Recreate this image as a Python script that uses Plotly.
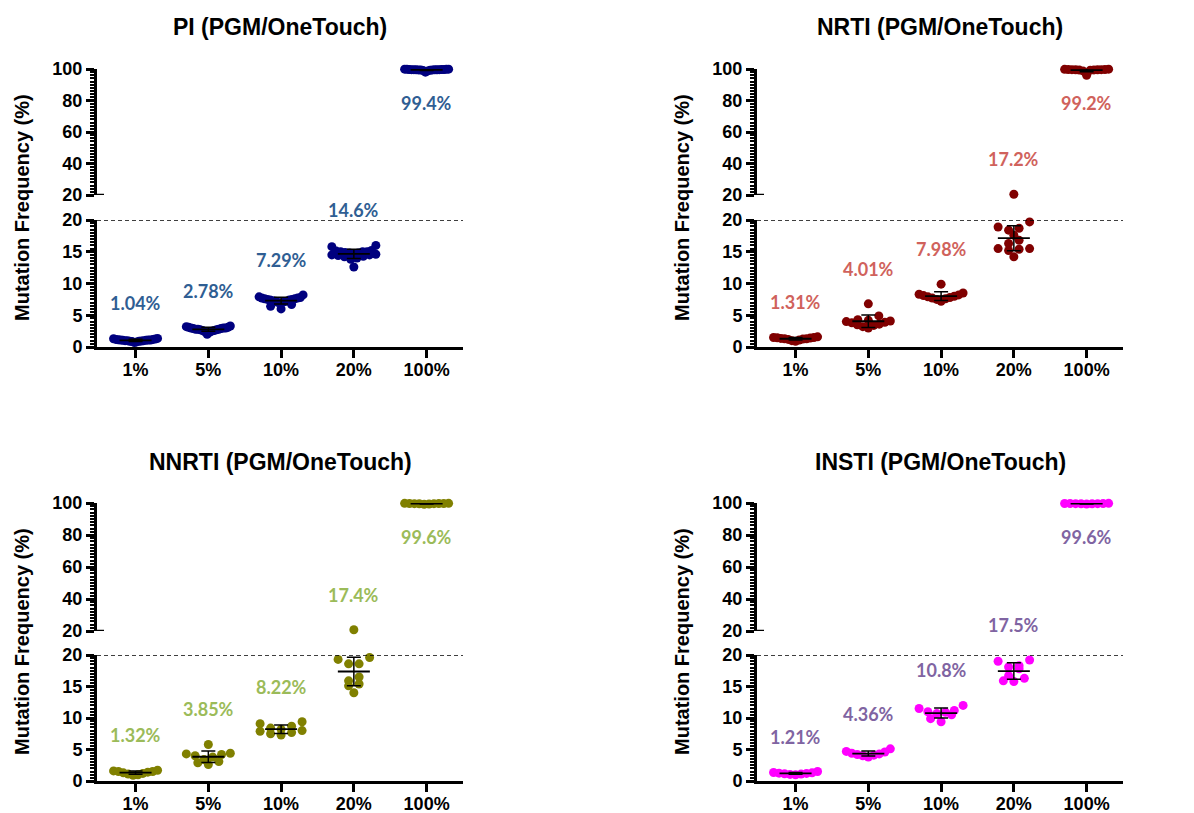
import numpy as np
import plotly.graph_objects as go

# ---------------- data ----------------
categories = ["1%", "5%", "10%", "20%", "100%"]
titles = ["PI (PGM/OneTouch)", "NRTI (PGM/OneTouch)", "NNRTI (PGM/OneTouch)", "INSTI (PGM/OneTouch)"]

pi_values = [
    [0.7, 0.8, 0.85, 0.9, 0.9, 0.95, 1.0, 1.0, 1.0, 1.05, 1.05, 1.1, 1.1, 1.1, 1.15, 1.2, 1.2, 1.25, 1.3, 1.35],
    [2.0, 2.3, 2.4, 2.5, 2.6, 2.6, 2.7, 2.7, 2.8, 2.8, 2.8, 2.9, 2.9, 3.0, 3.0, 3.0, 3.1, 3.1, 3.2, 3.3],
    [6.0, 6.4, 6.7, 6.9, 7.0, 7.1, 7.2, 7.2, 7.3, 7.4, 7.4, 7.5, 7.5, 7.6, 7.6, 7.7, 7.7, 7.8, 7.9, 8.2],
    [12.6, 13.8, 14.0, 14.2, 14.3, 14.4, 14.5, 14.5, 14.6, 14.7, 14.8, 14.9, 15.0, 15.0, 15.1, 14.8, 15.0, 15.2, 15.8, 16.0],
    [98.0, 98.8, 99.0, 99.2, 99.3, 99.4, 99.4, 99.5, 99.5, 99.5, 99.6, 99.6, 99.6, 99.7, 99.7, 99.7, 99.8, 99.8, 99.9, 99.9],
]
nrti_values = [
    [0.9, 1.0, 1.1, 1.2, 1.25, 1.3, 1.3, 1.35, 1.4, 1.45, 1.5, 1.5, 1.6],
    [6.8, 4.9, 3.0, 3.2, 3.4, 3.5, 3.6, 3.8, 3.9, 4.0, 4.1, 4.2, 4.3],
    [9.9, 7.2, 7.4, 7.5, 7.6, 7.7, 7.8, 7.9, 8.0, 8.1, 8.2, 8.3, 8.5],
    [20.5, 19.7, 18.7, 18.9, 17.6, 18.4, 16.8, 15.5, 15.4, 15.2, 15.5, 16.3, 14.2],
    [96.0, 98.8, 99.2, 99.3, 99.4, 99.5, 99.5, 99.6, 99.6, 99.7, 99.7, 99.8, 99.9],
]
nnrti_values = [
    [0.9, 1.0, 1.1, 1.2, 1.3, 1.4, 1.5, 1.5, 1.6, 1.7],
    [5.8, 2.6, 2.9, 3.1, 3.4, 3.8, 4.0, 4.2, 4.3, 4.4],
    [7.3, 7.5, 7.7, 7.9, 8.0, 8.2, 8.4, 8.7, 9.1, 9.4],
    [20.8, 19.3, 19.6, 18.6, 18.6, 16.5, 15.9, 15.4, 15.1, 14.0],
    [99.2, 99.4, 99.5, 99.6, 99.6, 99.7, 99.7, 99.8, 99.8, 99.7],
]
insti_values = [
    [1.0, 1.05, 1.1, 1.15, 1.2, 1.25, 1.3, 1.35, 1.5],
    [3.8, 4.0, 4.1, 4.2, 4.3, 4.4, 4.6, 4.7, 5.1],
    [9.4, 9.9, 10.5, 10.7, 10.9, 11.0, 11.2, 11.5, 12.0],
    [19.2, 19.0, 17.8, 18.3, 18.1, 16.7, 16.3, 15.9, 15.8],
    [99.3, 99.5, 99.5, 99.6, 99.6, 99.7, 99.7, 99.7, 99.8],
]

pi_labels = ["1.04%", "2.78%", "7.29%", "14.6%", "99.4%"]
nrti_labels = ["1.31%", "4.01%", "7.98%", "17.2%", "99.2%"]
nnrti_labels = ["1.32%", "3.85%", "8.22%", "17.4%", "99.6%"]
insti_labels = ["1.21%", "4.36%", "10.8%", "17.5%", "99.6%"]

# ---------------- styling ----------------
dot_colors = ["#00007F", "#800000", "#808000", "#FF00FF"]
label_colors = ["#2F5E93", "#D0625C", "#9BBB59", "#8064A2"]
FONT = "Liberation Sans, Arial, sans-serif"
LABEL_FONT = "Lato, Open Sans, sans-serif"

W, H = 1194, 813
XRANGE = (-0.53, 4.5)
PLOT_W = 366
PX_PER_CAT = PLOT_W / (XRANGE[1] - XRANGE[0])
LOW_RANGE = (0, 20)
UP_RANGE = (20, 100)
# left, upper-top, upper-bottom, lower-top, lower-bottom (px)
frames = [
    (97, 69, 195, 220, 347),
    (757, 69, 195, 220, 347),
    (97, 503, 631, 655, 781),
    (757, 503, 631, 655, 781),
]
title_y = [27, 27, 462, 462]

all_values = [pi_values, nrti_values, nnrti_values, insti_values]
all_labels = [pi_labels, nrti_labels, nnrti_labels, insti_labels]


def swarm(py, d=8.5, maxw=44.0):
    py = np.asarray(py, float)
    off = np.zeros(len(py))
    if len(py) == 0:
        return off
    order = np.argsort(-py, kind="stable")
    base = py.min()
    bins = {}
    for idx in order:
        b = int((py[idx] - base) // d)
        bins.setdefault(b, []).append(idx)
    for members in bins.values():
        n = len(members)
        if n == 1:
            continue
        s = min(d + 2.0, maxw / (n - 1))
        slots = (np.arange(n) - (n - 1) / 2) * s
        slot_order = np.argsort(np.abs(slots), kind="stable")
        for k, idx in enumerate(members):
            off[idx] = slots[slot_order[k]]
    return off


def axkey(prefix, n):
    return prefix + "axis" + ("" if n == 1 else str(n))


def axref(prefix, n):
    return prefix + ("" if n == 1 else str(n))


fig = go.Figure()
layout = {}
annotations = []
shapes = []

tickfont = dict(size=18, family=FONT, color="black", weight="bold")

for i in range(4):
    left, up_top, up_bot, lo_top, lo_bot = frames[i]
    xn, ylo, yup = i + 1, 2 * i + 1, 2 * i + 2
    xname, ylo_name, yup_name = axref("x", xn), axref("y", ylo), axref("y", yup)

    def to_px(v, seg, lo_top=lo_top, lo_bot=lo_bot, up_top=up_top, up_bot=up_bot):
        v = np.asarray(v, float)
        if seg == "lo":
            return lo_bot - (v - LOW_RANGE[0]) / (LOW_RANGE[1] - LOW_RANGE[0]) * (lo_bot - lo_top)
        return up_bot - (v - UP_RANGE[0]) / (UP_RANGE[1] - UP_RANGE[0]) * (up_bot - up_top)

    layout[axkey("x", xn)] = dict(
        domain=[left / W, (left + PLOT_W) / W], range=list(XRANGE), anchor=ylo_name,
        tickmode="array", tickvals=list(range(len(categories))), ticktext=categories,
        ticks="outside", ticklen=8, tickwidth=2.5, tickcolor="black", ticklabelstandoff=-4,
        showline=True, linewidth=3, linecolor="black", showgrid=False, zeroline=False,
        tickfont=tickfont, fixedrange=True, automargin=False,
    )
    common_y = dict(
        anchor=xname, ticks="outside", ticklen=8, tickwidth=2.5, tickcolor="black",
        showline=True, linewidth=3, linecolor="black", showgrid=False, zeroline=False,
        tickfont=tickfont, fixedrange=True, automargin=False,
    )
    layout[axkey("y", ylo)] = dict(
        domain=[1 - lo_bot / H, 1 - lo_top / H], range=list(LOW_RANGE),
        tickmode="linear", tick0=0, dtick=5,
        minor=dict(dtick=0.5, ticklen=4, tickwidth=1.5, tickcolor="black", ticks="outside"),
        **common_y,
    )
    layout[axkey("y", yup)] = dict(
        domain=[1 - up_bot / H, 1 - up_top / H], range=list(UP_RANGE),
        tickmode="linear", tick0=20, dtick=20,
        minor=dict(dtick=2, ticklen=4, tickwidth=1.5, tickcolor="black", ticks="outside"),
        **common_y,
    )

    seg_x = {"lo": [], "up": []}
    seg_y = {"lo": [], "up": []}
    mean_x = {"lo": [], "up": []}
    mean_y = {"lo": [], "up": []}
    err_x = {"lo": [], "up": []}
    err_y = {"lo": [], "up": []}
    err_v = {"lo": [], "up": []}

    for j, vals in enumerate(all_values[i]):
        vals = np.asarray(vals, float)
        tops = []
        for seg, mask in (("lo", vals <= 20), ("up", vals > 20)):
            sub = vals[mask]
            if len(sub) == 0:
                continue
            py = to_px(sub, seg)
            tops.append(py.min())
            off = swarm(py)
            seg_x[seg].extend(list(j + off / PX_PER_CAT))
            seg_y[seg].extend(list(sub))
        m = vals.mean()
        sd = vals.std(ddof=1)
        mseg = "lo" if m <= 20 else "up"
        mean_x[mseg].extend([j - 0.22, j + 0.22, None])
        mean_y[mseg].extend([m, m, None])
        err_x[mseg].append(j)
        err_y[mseg].append(m)
        err_v[mseg].append(sd)

        if j < len(categories) - 1:
            lab_py = min(tops) - 35
        else:
            lab_py = float(to_px(m, mseg)) + 33
        annotations.append(dict(
            x=j, xref=xname, y=1 - lab_py / H, yref="paper", text=all_labels[i][j],
            showarrow=False, xanchor="center", yanchor="middle",
            font=dict(size=18, family=LABEL_FONT, color=label_colors[i], weight="bold"),
        ))

    for seg, yname in (("lo", ylo_name), ("up", yup_name)):
        if seg_x[seg]:
            fig.add_trace(go.Scatter(
                x=seg_x[seg], y=seg_y[seg], xaxis=xname, yaxis=yname, mode="markers",
                marker=dict(size=9, color=dot_colors[i], line=dict(width=0)),
                cliponaxis=False, showlegend=False, hoverinfo="y",
            ))
    for seg, yname in (("lo", ylo_name), ("up", yup_name)):
        if mean_x[seg]:
            fig.add_trace(go.Scatter(
                x=mean_x[seg], y=mean_y[seg], xaxis=xname, yaxis=yname, mode="lines",
                line=dict(color="black", width=1.8), cliponaxis=False, showlegend=False,
                hoverinfo="skip",
            ))
            fig.add_trace(go.Scatter(
                x=err_x[seg], y=err_y[seg], xaxis=xname, yaxis=yname, mode="markers",
                marker=dict(size=1, color="rgba(0,0,0,0)"),
                error_y=dict(type="data", array=err_v[seg], visible=True, color="black",
                             thickness=1.5, width=7),
                cliponaxis=False, showlegend=False, hoverinfo="skip",
            ))

    # dashed line at the break (lower axis 20)
    shapes.append(dict(type="line", xref=f"{xname} domain", x0=0, x1=1, yref=ylo_name,
                       y0=20, y1=20, line=dict(color="black", width=1.4, dash="4px,3px")))
    # small stub at the bottom of the upper segment
    shapes.append(dict(type="line", xref=f"{xname} domain", x0=0, x1=7 / PLOT_W, yref=yup_name,
                       y0=20, y1=20, line=dict(color="black", width=2.5)))

    annotations.append(dict(
        x=(left + PLOT_W / 2) / W, y=1 - title_y[i] / H, xref="paper", yref="paper",
        text=titles[i], showarrow=False, xanchor="center", yanchor="middle",
        font=dict(size=23, family=FONT, color="black", weight="bold"),
    ))
    annotations.append(dict(
        x=(left - 75) / W, y=1 - ((up_top + lo_bot) / 2) / H, xref="paper", yref="paper",
        text="Mutation Frequency (%)", textangle=-90, showarrow=False,
        xanchor="center", yanchor="middle",
        font=dict(size=20, family=FONT, color="black", weight="bold"),
    ))

fig.update_layout(
    width=W, height=H, margin=dict(l=0, r=0, t=0, b=0, autoexpand=False),
    paper_bgcolor="white", plot_bgcolor="white", showlegend=False,
    annotations=annotations, shapes=shapes, **layout,
)

fig.write_html(
    "out.html",
    config={"displayModeBar": False},
    post_script="document.body.style.margin='0';document.body.style.padding='0';"
                "document.body.style.overflow='hidden';",
)
